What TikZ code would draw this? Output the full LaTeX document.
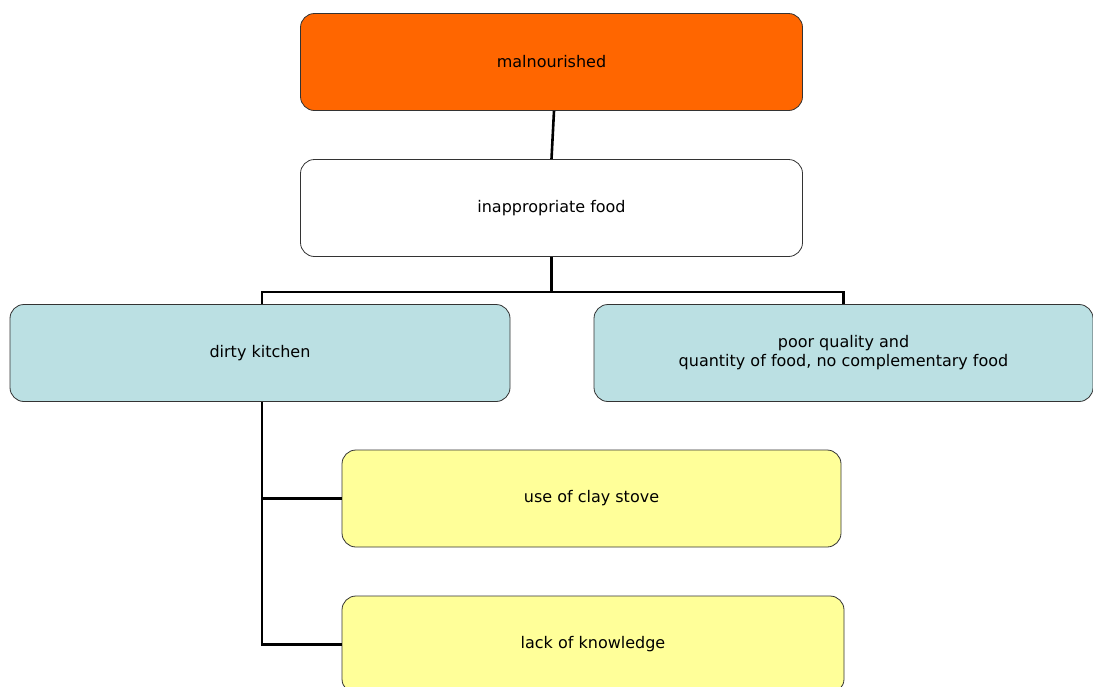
\documentclass[tikz,border=0pt]{standalone}
\usepackage{fontspec}
\setmainfont{DejaVu Sans}
\definecolor{topfill}{HTML}{FF6600}
\definecolor{midfill}{HTML}{BBE0E3}
\definecolor{lowfill}{HTML}{FFFF99}
\definecolor{edge}{HTML}{333333}
\begin{document}
\begin{tikzpicture}[x=1pt,y=-1pt,
  box/.style={draw=edge, line width=0.8pt, rounded corners=14pt,
    minimum width=502pt, minimum height=97pt, align=center,
    font=\fontsize{16}{19}\selectfont, inner sep=0pt},
  link/.style={line width=2.6pt, draw=black}]
\clip (0,0) rectangle (1093,686);
\fill[white] (0,0) rectangle (1093,686);

% boxes
\node[box, fill=topfill] (mal) at (551.5,62) {malnourished};
\node[box, fill=white] (food) at (551.5,208) {inappropriate food};
\node[box, fill=midfill, minimum width=500pt] (kitchen) at (260,353) {dirty kitchen};
\node[box, fill=midfill, minimum width=499pt] (quality) at (843.5,353)
  {poor quality and\\quantity of food, no complementary food};
\node[box, fill=lowfill, minimum width=499pt] (stove) at (591.5,498.5) {use of clay stove};
\node[box, fill=lowfill, minimum width=502pt] (know) at (593,644.5) {lack of knowledge};

% connectors
\draw[link] ([xshift=2.5pt]mal.south) -- (food.north);
\coordinate (bus) at (551.5,292);
\draw[link] (food.south) -- (bus);
\draw[link] (bus) -| ([xshift=2pt]kitchen.north);
\draw[link] (bus) -| (quality.north);
\coordinate (trunk) at ([xshift=2pt]kitchen.south |- know.west);
\draw[link] ([xshift=2pt]kitchen.south) -- (trunk) -- (know.west);
\draw[link] ([xshift=2pt]kitchen.south |- stove.west) -- (stove.west);
\end{tikzpicture}
\end{document}
